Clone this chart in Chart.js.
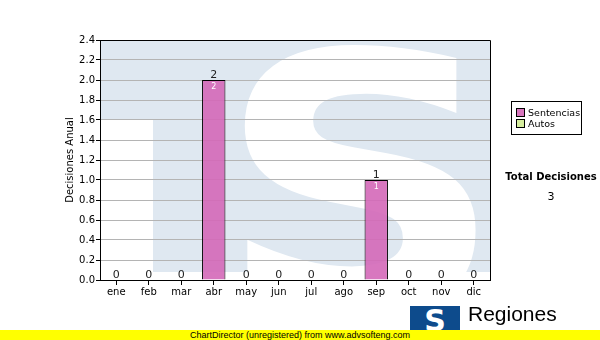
<!DOCTYPE html>
<html>
<head>
<meta charset="utf-8">
<script src="https://cdn.jsdelivr.net/npm/chart.js@4"></script>
<style>
  body { margin: 0; background: #fff; }
  #wrap { position: relative; width: 600px; height: 340px; overflow: hidden; font-family: "DejaVu Sans", Verdana, sans-serif; }
  #grafico { position: absolute; left: 0; top: 0; }
  .legend { position: absolute; left: 511px; top: 101px; width: 69px; height: 32px; border: 1px solid #000; background: #fff; font-size: 9.5px; color: #000; }
  .legend div { position: absolute; left: 4px; white-space: nowrap; line-height: 11px; }
  .legend span { display: inline-block; width: 7px; height: 7px; border: 1px solid #000; margin-right: 3px; vertical-align: -1px; }
  .total { position: absolute; left: 505px; top: 171px; width: 92px; text-align: center; font-size: 10px; font-weight: bold; }
  .total-num { position: absolute; left: 505px; top: 190px; width: 92px; text-align: center; font-size: 11px; }
  .logo { position: absolute; left: 410px; top: 306px; width: 50px; height: 30px; background: #0d4b8c; color: #fff; font: bold 30px "DejaVu Sans"; line-height: 30px; text-align: center; overflow: hidden; }
  .regiones { position: absolute; left: 468px; top: 302px; font: 21px "Liberation Sans", Arial, sans-serif; color: #000; }
  .footer { position: absolute; left: 0; top: 330px; width: 600px; height: 10px; background: #ffff00; font: 9px "Liberation Sans", Arial, sans-serif; line-height: 10px; text-align: center; color: #000; }
</style>
</head>
<body>
<div id="wrap">
  <canvas id="grafico" width="600" height="340"></canvas>
  <div class="legend">
    <div style="top:5px"><span style="background:#d774bd"></span>Sentencias</div>
    <div style="top:16px"><span style="background:#d6ee9e"></span>Autos</div>
  </div>
  <div class="total">Total Decisiones</div>
  <div class="total-num">3</div>
  <div class="logo">S</div>
  <div class="regiones">Regiones</div>
  <div class="footer">ChartDirector (unregistered) from www.advsofteng.com</div>
</div>
<script>
// datos del grafico
const meses = ['ene', 'feb', 'mar', 'abr', 'may', 'jun', 'jul', 'ago', 'sep', 'oct', 'nov', 'dic'];
const sentencias = [0, 0, 0, 2, 0, 0, 0, 0, 1, 0, 0, 0];
const autos = [0, 0, 0, 0, 0, 0, 0, 0, 0, 0, 0, 0];
const ticksY = [0, 0.2, 0.4, 0.6, 0.8, 1.0, 1.2, 1.4, 1.6, 1.8, 2.0, 2.2, 2.4];

// marca de agua (logo TS) detras del area del grafico
const marcaAgua = {
    id: 'marcaAgua',
    beforeDraw(chart) {
        const { ctx, chartArea: a } = chart;
        ctx.save();
        ctx.beginPath();
        ctx.rect(a.left, a.top, a.right - a.left, a.bottom - a.top);
        ctx.clip();
        ctx.fillStyle = '#dfe8f1';
        ctx.fillRect(a.left, a.top, a.right - a.left, a.bottom - a.top - 8);
        ctx.fillStyle = '#fff';
        ctx.fillRect(a.left, a.top + 80, 53, a.bottom - a.top);
        // la S blanca
        ctx.translate(a.left + 116, a.bottom + 30);
        ctx.scale(1.18, 1.05);
        ctx.font = 'bold 340px "DejaVu Sans"';
        ctx.textBaseline = 'alphabetic';
        ctx.fillText('S', 0, 0);
        ctx.restore();
    }
};

// marco superior y derecho + etiquetas de valores
const etiquetas = {
    id: 'etiquetas',
    afterDatasetsDraw(chart) {
        const { ctx, chartArea: a } = chart;
        ctx.save();
        ctx.strokeStyle = '#000';
        ctx.lineWidth = 1;
        ctx.beginPath();
        ctx.moveTo(a.left, a.top + 0.5);
        ctx.lineTo(a.right + 0.5, a.top + 0.5);
        ctx.lineTo(a.right + 0.5, a.bottom);
        ctx.stroke();

        const meta = chart.getDatasetMeta(0);
        const yScale = chart.scales.y;
        ctx.textAlign = 'center';
        meta.data.forEach((bar, i) => {
            const total = sentencias[i] + autos[i];
            const yTop = yScale.getPixelForValue(total);
            ctx.fillStyle = '#222';
            ctx.font = '11px "DejaVu Sans"';
            ctx.textBaseline = 'bottom';
            ctx.fillText(String(total), bar.x, yTop + 1);
            if (sentencias[i] > 0) {
                ctx.fillStyle = '#fff';
                ctx.font = '8px "DejaVu Sans"';
                ctx.textBaseline = 'top';
                ctx.fillText(String(sentencias[i]), bar.x, yTop + 3);
            }
        });
        ctx.restore();
    }
};

const ctx = document.getElementById('grafico').getContext('2d');
new Chart(ctx, {
    type: 'bar',
    data: {
        labels: meses,
        datasets: [
            {
                label: 'Sentencias',
                data: sentencias,
                backgroundColor: 'rgba(212, 104, 184, 0.9)',
                borderColor: '#000',
                borderWidth: 1,
                borderSkipped: 'bottom',
                categoryPercentage: 0.72,
                barPercentage: 1
            },
            {
                label: 'Autos',
                data: autos,
                backgroundColor: '#d6ee9e',
                borderColor: '#000',
                borderWidth: 0,
                categoryPercentage: 0.72,
                barPercentage: 1
            }
        ]
    },
    options: {
        responsive: false,
        animation: false,
        devicePixelRatio: 1,
        layout: { padding: { left: 64, top: 40, right: 110, bottom: 40 } },
        plugins: { legend: { display: false }, tooltip: { enabled: false } },
        scales: {
            x: {
                stacked: true,
                afterFit: s => { s.height = 20; },
                grid: { drawOnChartArea: false, offset: false, tickColor: '#000', tickLength: 5 },
                border: { color: '#000' },
                ticks: { color: '#000', font: { family: 'DejaVu Sans', size: 10 }, padding: 1 }
            },
            y: {
                stacked: true,
                min: 0,
                max: 2.4,
                afterFit: s => { s.width = 36; },
                afterBuildTicks: s => { s.ticks = ticksY.map(v => ({ value: v })); },
                grid: { color: '#b4b4b4', tickColor: '#000', tickLength: 4 },
                border: { color: '#000' },
                ticks: {
                    color: '#000',
                    font: { family: 'DejaVu Sans', size: 10 },
                    padding: 1,
                    callback: v => v.toFixed(1)
                },
                title: {
                    display: true,
                    text: 'Decisiones Anual',
                    color: '#000',
                    font: { family: 'DejaVu Sans', size: 10 },
                    padding: 0
                }
            }
        }
    },
    plugins: [marcaAgua, etiquetas]
});
</script>
</body>
</html>
